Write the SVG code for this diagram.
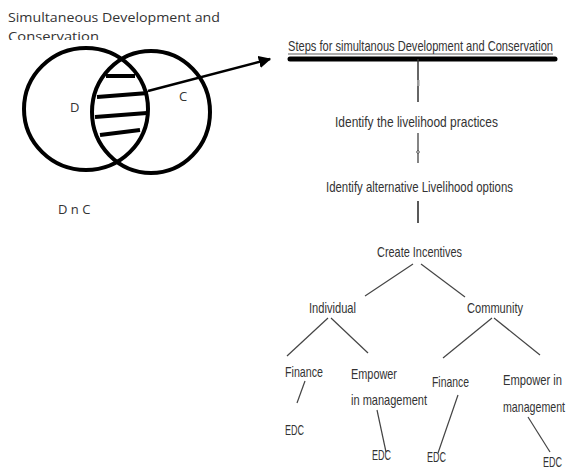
<svg xmlns="http://www.w3.org/2000/svg" width="568" height="470" viewBox="0 0 568 470">
<style>
.t{font-family:"Liberation Sans",Arial,sans-serif;font-size:15px;fill:#333}
.c{font-family:"Open Sans","Liberation Sans",sans-serif;font-size:13px;fill:#333}
.thin{stroke:#444;stroke-width:1.2;fill:none}
.thick{stroke:#000;stroke-width:4;fill:none}
</style>
<defs>
<marker id="ah" viewBox="0 0 10 10" refX="9" refY="5" markerWidth="5" markerHeight="5" orient="auto" markerUnits="strokeWidth">
<path d="M0,0 L10,5 L0,10 Z" fill="#000"/>
</marker>
<clipPath id="cl"><rect x="0" y="0" width="300" height="40"/></clipPath>
</defs>
<rect width="568" height="470" fill="#fff"/>
<g id="title">
<text class="c" x="8" y="22" textLength="212" lengthAdjust="spacingAndGlyphs">Simultaneous Development and</text>
<text class="c" x="8" y="41" clip-path="url(#cl)" textLength="91" lengthAdjust="spacingAndGlyphs">Conservation</text>
</g>
<g id="venn">
<ellipse cx="86" cy="109" rx="62" ry="61" class="thick"/>
<ellipse cx="151" cy="112" rx="59" ry="61" class="thick"/>
<line x1="106" y1="76" x2="135" y2="76" class="thick"/>
<line x1="97" y1="97" x2="148" y2="93" class="thick"/>
<line x1="95" y1="117" x2="147" y2="113" class="thick"/>
<line x1="100" y1="135" x2="140" y2="130" class="thick"/>
<text class="c" x="70" y="112">D</text>
<text class="c" x="179" y="101">C</text>
<text class="c" x="58" y="214">D n C</text>
</g>
<g id="connectors">
<line x1="148" y1="91" x2="270" y2="59" stroke="#000" stroke-width="2.5" marker-end="url(#ah)"/>
<line x1="290" y1="59" x2="555" y2="59" stroke="#000" stroke-width="5" stroke-linecap="round"/>
<line x1="418" y1="59" x2="418" y2="102" stroke="#333" stroke-width="1.5"/>
<rect x="417" y="80" width="2.5" height="6" fill="#999"/>
<line x1="418" y1="133" x2="418" y2="163" stroke="#333" stroke-width="1.2"/>
<circle cx="418" cy="152" r="1.3" fill="#fff" stroke="#333" stroke-width="0.8"/>
<line x1="418" y1="201" x2="418" y2="223" stroke="#222" stroke-width="1.5"/>
<line x1="413" y1="264" x2="365" y2="296" class="thin"/>
<line x1="421" y1="264" x2="465" y2="297" class="thin"/>
<line x1="328" y1="318" x2="287" y2="356" class="thin"/>
<line x1="331" y1="318" x2="368" y2="353" class="thin"/>
<line x1="492" y1="318" x2="443" y2="358" class="thin"/>
<line x1="494" y1="318" x2="540" y2="355" class="thin"/>
<line x1="305" y1="381" x2="297" y2="403" class="thin"/>
<line x1="377" y1="410" x2="386" y2="452" class="thin"/>
<line x1="458" y1="395" x2="438" y2="453" class="thin"/>
<line x1="528" y1="417" x2="550" y2="452" class="thin"/>
</g>
<g id="heading">
<text class="t" x="288" y="51" textLength="265" lengthAdjust="spacingAndGlyphs">Steps for simultanous Development and Conservation</text>
<line x1="288" y1="54" x2="553" y2="54" stroke="#333" stroke-width="0.8"/>
</g>
<g id="step1"><text class="t" x="335" y="127" textLength="163" lengthAdjust="spacingAndGlyphs">Identify the livelihood practices</text></g>
<g id="step2"><text class="t" x="326" y="192" textLength="187" lengthAdjust="spacingAndGlyphs">Identify alternative Livelihood options</text></g>
<g id="incentives"><text class="t" x="377" y="257" textLength="85" lengthAdjust="spacingAndGlyphs">Create Incentives</text></g>
<g id="individual"><text class="t" x="309" y="313" textLength="47" lengthAdjust="spacingAndGlyphs">Individual</text></g>
<g id="community"><text class="t" x="467" y="313" textLength="56" lengthAdjust="spacingAndGlyphs">Community</text></g>
<g id="finance1"><text class="t" x="285" y="377" textLength="38" lengthAdjust="spacingAndGlyphs">Finance</text></g>
<g id="empower1">
<text class="t" x="351" y="379" textLength="46" lengthAdjust="spacingAndGlyphs">Empower</text>
<text class="t" x="351" y="405" textLength="76" lengthAdjust="spacingAndGlyphs">in management</text>
</g>
<g id="finance2"><text class="t" x="432" y="387" textLength="37" lengthAdjust="spacingAndGlyphs">Finance</text></g>
<g id="empower2">
<text class="t" x="503" y="385" textLength="59" lengthAdjust="spacingAndGlyphs">Empower in</text>
<text class="t" x="503" y="412" textLength="62" lengthAdjust="spacingAndGlyphs">management</text>
</g>
<g id="edc1"><text class="t" x="285" y="435" textLength="19" lengthAdjust="spacingAndGlyphs">EDC</text></g>
<g id="edc2"><text class="t" x="372" y="460" textLength="19" lengthAdjust="spacingAndGlyphs">EDC</text></g>
<g id="edc3"><text class="t" x="427" y="462" textLength="19" lengthAdjust="spacingAndGlyphs">EDC</text></g>
<g id="edc4"><text class="t" x="543" y="467" textLength="19" lengthAdjust="spacingAndGlyphs">EDC</text></g>
</svg>
